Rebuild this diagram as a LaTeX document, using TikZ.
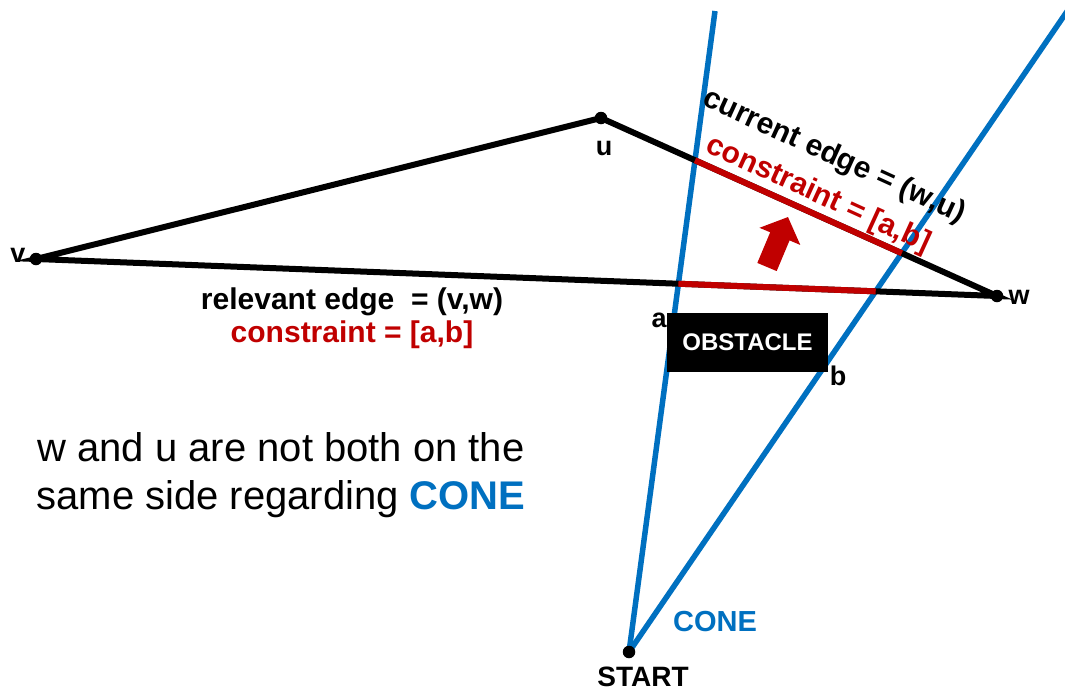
\documentclass[tikz,border=0pt]{standalone}
\usepackage{fontspec}
\setmainfont{Liberation Sans}
\usetikzlibrary{arrows.meta,positioning,calc}
\definecolor{coneblue}{RGB}{0,112,192}
\definecolor{darkred}{RGB}{192,0,0}
\tikzset{
  edge/.style={line width=6pt,draw=black},
  ray/.style={line width=5.5pt,draw=coneblue},
  constr/.style={line width=6pt,draw=darkred},
  vertex/.style={circle,fill=black,inner sep=0pt,minimum size=12.5pt},
  lbl/.style={font=\fontsize{27}{30}\selectfont\bfseries,inner sep=1pt},
  bigtext/.style={font=\fontsize{30}{33}\selectfont\bfseries,align=center,inner sep=0pt},
  slanted/.style={font=\fontsize{30}{33}\selectfont\bfseries,inner sep=0pt,anchor=base,rotate=-24.5},
  obstbox/.style={fill=black,text=white,font=\fontsize{24}{26}\selectfont\bfseries,
                  minimum width=161pt,minimum height=59pt,inner sep=0pt},
  push/.style={line width=21pt,draw=darkred,-{Triangle[width=43pt,length=21pt]}}
}

\begin{document}
\begin{tikzpicture}[x=1pt,y=-1pt]
  \useasboundingbox (0,0) rectangle (1065,691);
  % geometry
  \coordinate (v) at (36,259);
  \coordinate (u) at (601,118);
  \coordinate (w) at (997,296);
  \coordinate (start) at (629,652);
  \coordinate (left) at (715,11);
  \coordinate (right) at (1068,10);

  % cone
  \draw[ray] (start) -- (left);
  \draw[ray] (start) -- (right);

  % triangle edges
  \draw[edge] (v) -- (u) -- (w) -- cycle;

  % constraints
  \draw[constr] (intersection of v--w and start--left) -- (intersection of v--w and start--right);
  \draw[constr] (intersection of u--w and start--left) -- (intersection of u--w and start--right);

  \coordinate (tail) at (767,267);
  \coordinate (tip) at (788,217);
  \draw[push] (tail) -- (tip);

  \node[obstbox] (obst) at (747.5,342.5) {OBSTACLE};
  \node[lbl] (alabel) at (659,320) {a};
  \node[lbl] (blabel) at (838,376) {b};

  \node[vertex] (vdot) at (v) {};
  \node[vertex] (udot) at (u) {};
  \node[vertex] (wdot) at (w) {};
  \node[vertex] (sdot) at (start) {};
  \node[lbl,left=3pt of vdot,yshift=4pt] (vlabel) {v};
  \node[lbl] (ulabel) at (604,148) {u};
  \node[lbl,right=4pt of wdot,yshift=-1pt] (wlabel) {w};
  \node[lbl,font=\fontsize{28}{30}\selectfont\bfseries] (slabel) at (643,677) {START};
  \node[lbl,text=coneblue,font=\fontsize{29}{30}\selectfont\bfseries] (conelabel) at (715,622) {CONE};

  \node[bigtext] (relev) at (352,318)
    {relevant edge\ \ = (v,w)\\ \textcolor{darkred}{constraint = [a,b]}};
  \node[slanted] (curr) at (831,164) {current edge = (w,u)};
  \node[slanted,text=darkred] (currc) at (815,202) {constraint = [a,b]};

  \node[align=center,inner sep=0pt,font=\fontsize{40}{48}\selectfont] (note) at (281,475)
    {w and u are not both on the\\ same side regarding \textcolor{coneblue}{\bfseries CONE}};
\end{tikzpicture}
\end{document}
